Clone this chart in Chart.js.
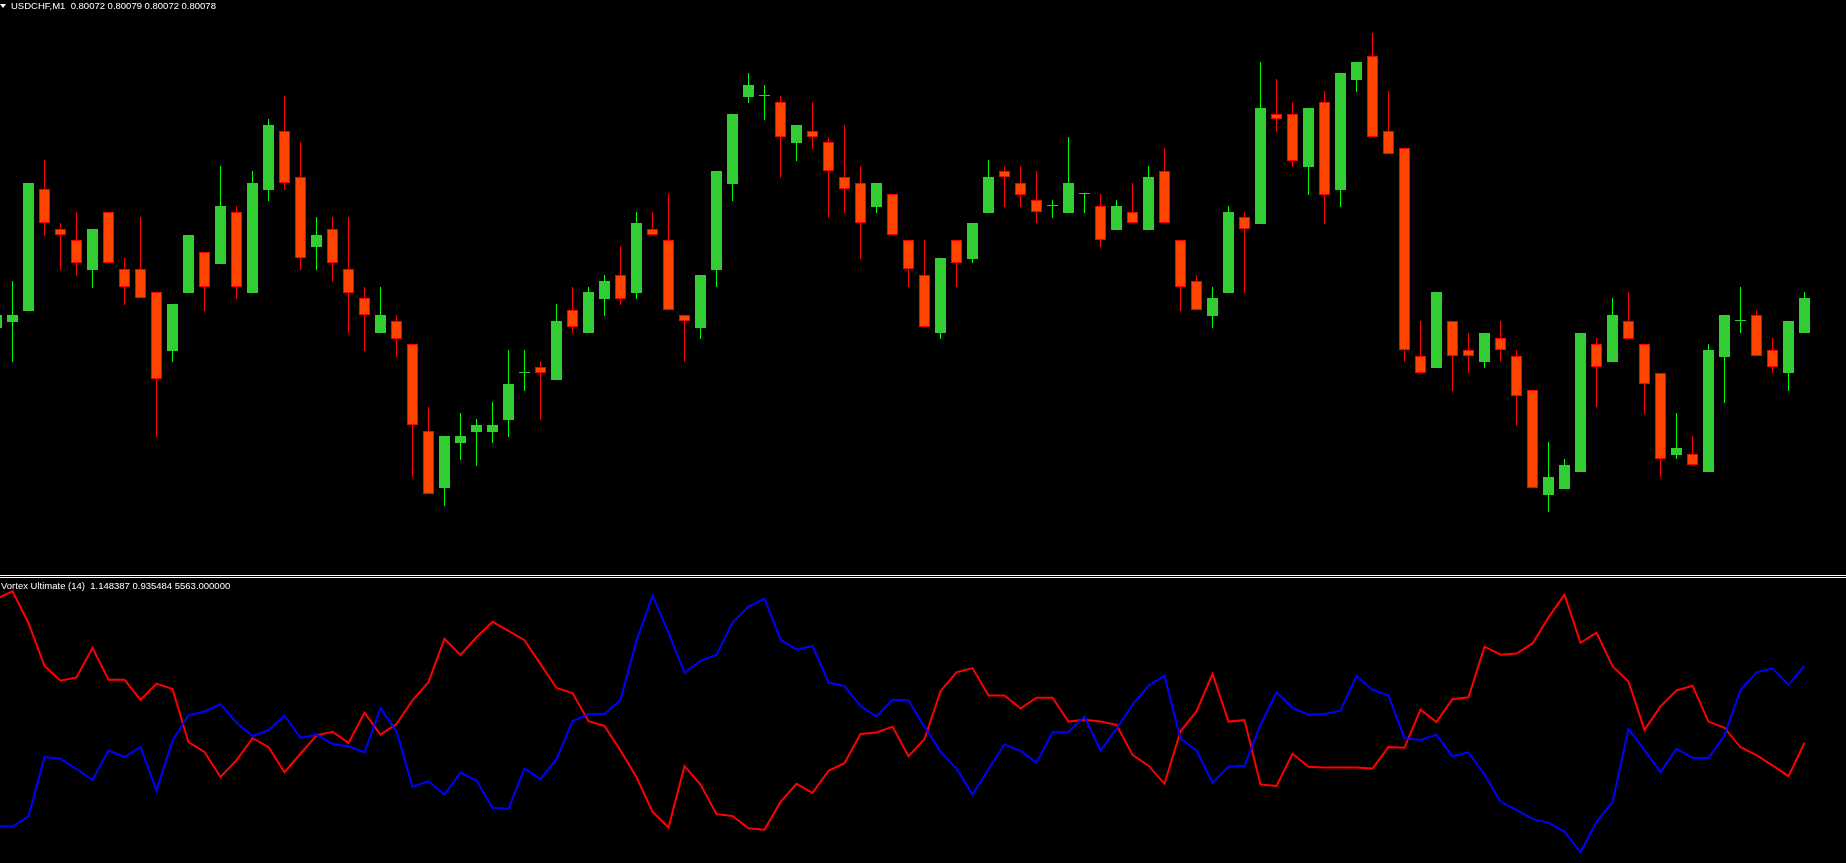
<!DOCTYPE html>
<html>
<head>
<meta charset="utf-8">
<title>USDCHF,M1 - Vortex Ultimate</title>
<script src="https://cdn.jsdelivr.net/npm/chart.js@4.4.0/dist/chart.umd.min.js"></script>
<style>
    html, body { margin: 0; padding: 0; background: #000; overflow: hidden; }
    #wrap { position: relative; width: 1846px; height: 863px; }
    canvas { position: absolute; left: 0; }
    #priceChart { top: 0; }
    #vortexChart { top: 578px; }
    .sep { position: absolute; left: 0; width: 1846px; height: 1px; background: #fff; }
    .label { position: absolute; color: #fff; font: 9.5px "Liberation Sans", Arial, sans-serif; white-space: pre; z-index: 2; line-height: 12px; }
    .tri { position: absolute; left: 0; top: 4px; width: 0; height: 0; border-left: 3px solid transparent; border-right: 3px solid transparent; border-top: 4px solid #fff; z-index: 2; }
</style>
</head>
<body>
<div id="wrap">
    <canvas id="priceChart" width="1846" height="574"></canvas>
    <div class="sep" style="top:575px"></div>
    <div class="sep" style="top:577px"></div>
    <canvas id="vortexChart" width="1846" height="285"></canvas>
    <div class="tri"></div>
    <div class="label" style="left:11px;top:0px">USDCHF,M1  0.80072 0.80079 0.80072 0.80078</div>
    <div class="label" style="left:1px;top:580px">Vortex Ultimate (14)  1.148387 0.935484 5563.000000</div>
</div>
<script>
// candles (0 = top of the price window, grows downward)
const open = [328,322,311,189,229,240,270,212,269,269,
    292,351,293,252,264,212,293,190,131,177,
    247,229,269,298,333,321,344,431,488,443,
    432,432,420,373,367,380,310,333,299,275,
    293,229,240,315,328,270,184,97,96,102,
    143,131,142,177,183,207,194,240,275,333,
    240,259,213,171,183,200,206,213,194,206,
    230,212,230,171,240,281,316,293,217,224,
    114,114,167,102,190,80,56,131,148,356,
    368,321,350,362,338,356,390,495,489,472,
    344,362,321,344,373,455,454,472,357,321,
    315,350,373,333];
const high = [313,281,183,160,223,212,229,212,258,217,
    292,304,235,252,166,206,171,119,96,142,
    217,217,217,287,287,315,344,407,436,413,
    419,402,350,350,361,304,287,287,275,246,
    212,212,194,315,275,171,114,73,85,96,
    125,102,137,125,166,183,194,240,240,258,
    240,223,160,166,166,171,200,137,194,194,
    200,183,166,148,240,275,287,206,212,62,
    79,102,108,91,73,62,33,91,148,321,
    292,321,333,333,321,350,390,442,459,333,
    338,298,292,344,373,413,436,344,315,287,
    310,338,321,292];
const low = [330,362,311,236,270,276,288,263,305,298,
    437,362,293,311,264,299,293,201,190,270,
    270,282,333,351,333,357,477,494,506,460,
    466,443,437,391,420,380,333,333,316,305,
    299,235,310,362,339,287,201,103,120,178,
    161,149,218,213,259,213,235,287,327,339,
    287,263,213,207,207,223,218,213,213,247,
    230,223,230,223,311,310,328,293,293,224,
    132,167,195,224,207,92,137,154,362,373,
    368,391,373,368,362,426,488,512,489,472,
    407,362,339,414,477,459,465,472,403,333,
    356,373,391,333];
const close = [315,315,183,223,235,263,229,263,287,298,
    379,304,235,287,206,287,183,125,183,258,
    235,263,293,315,315,339,425,494,436,436,
    425,425,384,373,373,321,327,292,281,299,
    223,235,310,321,275,171,114,85,96,137,
    125,137,171,189,223,183,235,269,327,258,
    263,223,177,177,195,212,206,183,194,240,
    206,223,177,223,287,310,298,212,229,108,
    119,161,108,195,73,62,137,154,350,373,
    292,356,356,333,350,396,488,477,465,333,
    367,315,339,384,459,448,465,350,315,321,
    356,367,321,298];

// Vortex Ultimate (14): VI+ (blue) and VI- (red)
const viPlus = [0.704,0.704,0.732,0.896,0.891,0.863,0.833,0.914,0.896,0.924,
    0.803,0.941,1.012,1.022,1.042,0.991,0.954,0.970,1.011,0.949,
    0.958,0.932,0.926,0.909,1.031,0.967,0.814,0.829,0.792,0.853,
    0.831,0.756,0.753,0.864,0.835,0.890,0.995,1.015,1.015,1.054,
    1.218,1.342,1.240,1.129,1.162,1.179,1.268,1.312,1.334,1.221,
    1.193,1.203,1.102,1.092,1.037,1.008,1.054,1.053,0.979,0.911,
    0.864,0.792,0.862,0.931,0.913,0.880,0.964,0.965,1.008,0.914,
    0.974,1.040,1.093,1.121,0.947,0.914,0.825,0.869,0.872,0.985,
    1.075,1.032,1.013,1.015,1.024,1.120,1.082,1.066,0.948,0.943,
    0.958,0.898,0.909,0.847,0.773,0.750,0.725,0.714,0.690,0.632,
    0.717,0.771,0.974,0.915,0.854,0.919,0.893,0.893,0.956,1.081,
    1.130,1.141,1.095,1.148387];
const viMinus = [1.334,1.354,1.266,1.148,1.107,1.116,1.198,1.110,1.110,1.054,
    1.099,1.084,0.937,0.910,0.841,0.887,0.948,0.924,0.854,0.905,
    0.956,0.966,0.935,1.019,0.958,0.987,1.053,1.103,1.223,1.178,
    1.227,1.270,1.245,1.219,1.153,1.087,1.073,0.995,0.982,0.914,
    0.840,0.745,0.701,0.871,0.820,0.738,0.733,0.699,0.695,0.772,
    0.822,0.797,0.858,0.879,0.960,0.964,0.980,0.898,0.946,1.078,
    1.130,1.142,1.066,1.066,1.030,1.060,1.060,0.994,0.999,0.994,
    0.985,0.902,0.872,0.822,0.967,1.022,1.126,0.994,0.998,0.820,
    0.816,0.905,0.869,0.867,0.867,0.867,0.864,0.924,0.922,1.027,
    0.993,1.056,1.061,1.201,1.179,1.182,1.210,1.282,1.345,1.212,
    1.240,1.147,1.105,0.971,1.036,1.080,1.093,0.994,0.977,0.923,
    0.901,0.873,0.843,0.935484];

// bar 1 sits at 12.5px, 16px per bar, first bar cut off by the left edge
const xMin = 0.21875, xMax = 115.59375;

function hiddenAxes(yOpts) {
    return {
        x: { type: 'linear', min: xMin, max: xMax, offset: false, display: false },
        y: Object.assign({ display: false }, yOpts)
    };
}

function createPriceChart() {
    let idx = open.map((v, i) => i);
    let up = idx.map(i => close[i] <= open[i]);
    let ctx = document.getElementById('priceChart').getContext('2d');
    new Chart(ctx, {
        type: 'bar',
        data: {
            datasets: [{
                data: idx.map(i => ({ x: i, y: [open[i], close[i]] })),
                backgroundColor: up.map(u => u ? '#32cd32' : '#ff4500'),
                borderColor: up.map(u => u ? '#32cd32' : '#ff0000'),
                borderWidth: 1,
                borderSkipped: false,
                maxBarThickness: 11,
                minBarLength: 1,
                grouped: false
            }, {
                data: idx.map(i => ({ x: i, y: [low[i], high[i]] })),
                backgroundColor: up.map(u => u ? '#00ff00' : '#ff0000'),
                borderWidth: 0,
                maxBarThickness: 1,
                grouped: false
            }]
        },
        options: {
            responsive: false,
            devicePixelRatio: 1,
            animation: false,
            events: [],
            layout: { padding: 0 },
            plugins: { legend: { display: false }, tooltip: { enabled: false } },
            scales: hiddenAxes({ min: 0, max: 574, reverse: true })
        }
    });
}

function createVortexChart() {
    let ctx = document.getElementById('vortexChart').getContext('2d');
    new Chart(ctx, {
        type: 'line',
        data: {
            datasets: [{
                data: viPlus.map((v, i) => ({ x: i, y: v })),
                borderColor: '#0000ff',
                borderWidth: 2,
                pointRadius: 0,
                tension: 0
            }, {
                data: viMinus.map((v, i) => ({ x: i, y: v })),
                borderColor: '#ff0000',
                borderWidth: 2,
                pointRadius: 0,
                tension: 0
            }]
        },
        options: {
            responsive: false,
            devicePixelRatio: 1,
            animation: false,
            events: [],
            layout: { padding: 0 },
            plugins: { legend: { display: false }, tooltip: { enabled: false } },
            scales: hiddenAxes({ type: 'linear', min: 0.603, max: 1.391 })
        }
    });
}

createPriceChart();
createVortexChart();
</script>
</body>
</html>
